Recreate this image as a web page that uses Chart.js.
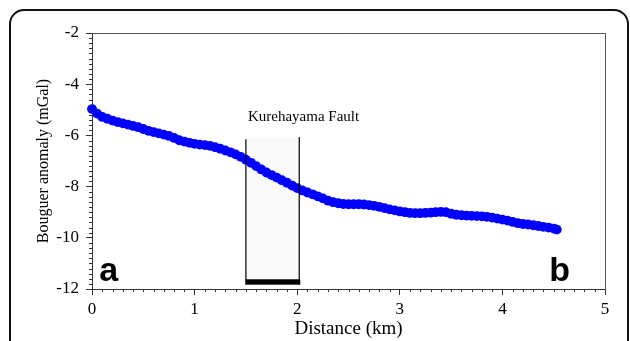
<!DOCTYPE html>
<html>
<head>
<meta charset="utf-8">
<script src="https://cdn.jsdelivr.net/npm/chart.js@4/dist/chart.umd.min.js"></script>
<style>
html,body{margin:0;padding:0;background:#fff;}
canvas{display:block;}
</style>
</head>
<body>
<canvas id="c" width="630" height="341"></canvas>
<script>
// ---- data ----
const distanceKm = [0,0.05,0.10,0.15,0.20,0.25,0.30,0.35,0.40,0.45,0.50,0.55,0.60,0.65,0.70,0.75,0.80,0.85,0.90,0.95,
  1.00,1.05,1.10,1.15,1.20,1.25,1.30,1.35,1.40,1.45,1.50,1.55,1.60,1.65,1.70,1.75,1.80,1.85,1.90,1.95,
  2.00,2.05,2.10,2.15,2.20,2.25,2.30,2.35,2.40,2.45,2.50,2.55,2.60,2.65,2.70,2.75,2.80,2.85,2.90,2.95,
  3.00,3.05,3.10,3.15,3.20,3.25,3.30,3.35,3.40,3.45,3.50,3.55,3.60,3.65,3.70,3.75,3.80,3.85,3.90,3.95,
  4.00,4.05,4.10,4.15,4.20,4.25,4.30,4.35,4.40,4.45,4.50,4.53];
const bouguerMGal = [-4.97,-5.15,-5.28,-5.35,-5.42,-5.48,-5.53,-5.58,-5.63,-5.68,-5.75,-5.82,-5.87,-5.92,-5.97,-6.02,-6.10,-6.19,-6.24,-6.29,
  -6.33,-6.36,-6.38,-6.41,-6.46,-6.52,-6.59,-6.66,-6.74,-6.84,-6.95,-7.07,-7.20,-7.33,-7.45,-7.55,-7.65,-7.75,-7.85,-7.96,
  -8.06,-8.15,-8.23,-8.30,-8.38,-8.46,-8.55,-8.61,-8.65,-8.68,-8.69,-8.69,-8.69,-8.70,-8.72,-8.75,-8.79,-8.84,-8.89,-8.93,
  -8.97,-9.00,-9.03,-9.04,-9.04,-9.03,-9.02,-9.00,-8.99,-9.00,-9.06,-9.10,-9.12,-9.13,-9.14,-9.15,-9.16,-9.18,-9.21,-9.25,
  -9.29,-9.33,-9.38,-9.43,-9.46,-9.48,-9.51,-9.54,-9.57,-9.60,-9.64,-9.68];
const xTickValues = [0,1,2,3,4,5];
const yTickValues = [-12,-10,-8,-6,-4,-2];
const faultName = "Kurehayama Fault";
const faultFromKm = 1.5, faultToKm = 2.02;
const faultTopLeft = -6.15, faultTopRight = -6.06;
const faultBarTop = -11.62, faultBarBottom = -11.83;
const endLabels = [{text:"a", x:0.07, y:-11.69}, {text:"b", x:4.457, y:-11.69}];
const faultLabelPos = {x:1.52, y:-5.28};

const points = distanceKm.map((d,i)=>({x:d, y:bouguerMGal[i]}));
const AX = '#333';

const decor = {
  id:'decor',
  beforeDatasetsDraw(chart){
    const {ctx, scales:{x,y}} = chart;
    ctx.save();
    const l = x.getPixelForValue(faultFromKm), r = x.getPixelForValue(faultToKm);
    const t = y.getPixelForValue(Math.max(faultTopLeft, faultTopRight));
    const b = y.getPixelForValue(faultBarBottom);
    ctx.fillStyle = 'rgba(0,0,0,0.02)';
    ctx.fillRect(l, t, r-l, b-t);
    ctx.restore();
  },
  afterDatasetsDraw(chart){
    const {ctx, scales:{x,y}, chartArea:ca} = chart;
    ctx.save();
    ctx.strokeStyle = '#000'; ctx.lineWidth = 1.2;
    const l = x.getPixelForValue(faultFromKm), r = x.getPixelForValue(faultToKm);
    const bb = y.getPixelForValue(faultBarBottom);
    ctx.beginPath();
    ctx.moveTo(l, y.getPixelForValue(faultTopLeft)); ctx.lineTo(l, bb);
    ctx.moveTo(r, y.getPixelForValue(faultTopRight)); ctx.lineTo(r, bb);
    ctx.stroke();
    ctx.fillStyle = '#000';
    const bt = y.getPixelForValue(faultBarTop);
    ctx.fillRect(l, bt, r-l+1, bb-bt);
    ctx.font = '15px "Liberation Serif"';
    ctx.textBaseline = 'middle'; ctx.textAlign = 'left';
    ctx.fillText(faultName, x.getPixelForValue(faultLabelPos.x), y.getPixelForValue(faultLabelPos.y));
    ctx.font = 'bold 34px "Liberation Sans"';
    ctx.textBaseline = 'alphabetic';
    endLabels.forEach(lb=>ctx.fillText(lb.text, x.getPixelForValue(lb.x), y.getPixelForValue(lb.y)));
    ctx.restore();
  },
  afterDraw(chart){
    const {ctx, scales:{x,y}, chartArea:ca} = chart;
    ctx.save();
    ctx.strokeStyle = '#555'; ctx.lineWidth = 1;
    ctx.beginPath();
    ctx.moveTo(ca.left, ca.top+0.5); ctx.lineTo(ca.right+0.5, ca.top+0.5); ctx.lineTo(ca.right+0.5, ca.bottom);
    ctx.stroke();
    ctx.strokeStyle = AX;
    ctx.beginPath();
    for (let i=0;i<=50;i++){
      if (i%10===0) continue;
      const px = Math.round(x.getPixelForValue(i/10))+0.5;
      ctx.moveTo(px, ca.bottom); ctx.lineTo(px, ca.bottom+3);
    }
    for (let i=0;i<=50;i++){
      if (i%10===0) continue;
      const py = Math.round(y.getPixelForValue(-12 + i*0.2))+0.5;
      ctx.moveTo(ca.left, py); ctx.lineTo(ca.left-3, py);
    }
    ctx.stroke();
    ctx.strokeStyle = '#111'; ctx.lineWidth = 2;
    const L=10, T=10, R=628, B=380, rad=14;
    ctx.beginPath();
    ctx.moveTo(L, B); ctx.lineTo(L, T+rad);
    ctx.arcTo(L, T, L+rad, T, rad);
    ctx.lineTo(R-rad, T);
    ctx.arcTo(R, T, R, T+rad, rad);
    ctx.lineTo(R, B);
    ctx.stroke();
    ctx.restore();
  }
};

new Chart(document.getElementById('c'), {
  type:'scatter',
  data:{datasets:[{
    data: points,
    showLine:false,
    pointRadius:4.9,
    pointHoverRadius:4.9,
    pointBackgroundColor:'#0000ff',
    pointBorderWidth:0,
    clip:false
  }]},
  options:{
    responsive:false,
    animation:false,
    events:[],
    layout:{padding:{top:33,right:25,left:29,bottom:0}},
    plugins:{legend:{display:false}, tooltip:{enabled:false}},
    scales:{
      x:{
        type:'linear', min:0, max:5,
        afterBuildTicks(s){ s.ticks = xTickValues.map(v=>({value:v})); },
        afterFit(s){ s.height = 52; },
        ticks:{color:'#000', font:{family:'"Liberation Serif"', size:17}, padding:4, maxRotation:0},
        grid:{drawOnChartArea:false, drawTicks:true, tickLength:6, color:AX, lineWidth:1},
        border:{display:true, color:AX, width:1},
        title:{display:true, text:'Distance (km)', color:'#000', font:{family:'"Liberation Serif"', size:19}, padding:{top:0,bottom:1}}
      },
      y:{
        type:'linear', min:-12, max:-2,
        afterBuildTicks(s){ s.ticks = yTickValues.map(v=>({value:v})); },
        afterFit(s){ s.width = 63; },
        ticks:{color:'#000', font:{family:'"Liberation Serif"', size:17}, padding:7},
        grid:{drawOnChartArea:false, drawTicks:true, tickLength:6, color:AX, lineWidth:1},
        border:{display:true, color:AX, width:1},
        title:{display:true, text:'Bouguer anomaly (mGal)', color:'#000', font:{family:'"Liberation Serif"', size:16}, padding:{top:5,bottom:0}}
      }
    }
  },
  plugins:[decor]
});
</script>
</body>
</html>
